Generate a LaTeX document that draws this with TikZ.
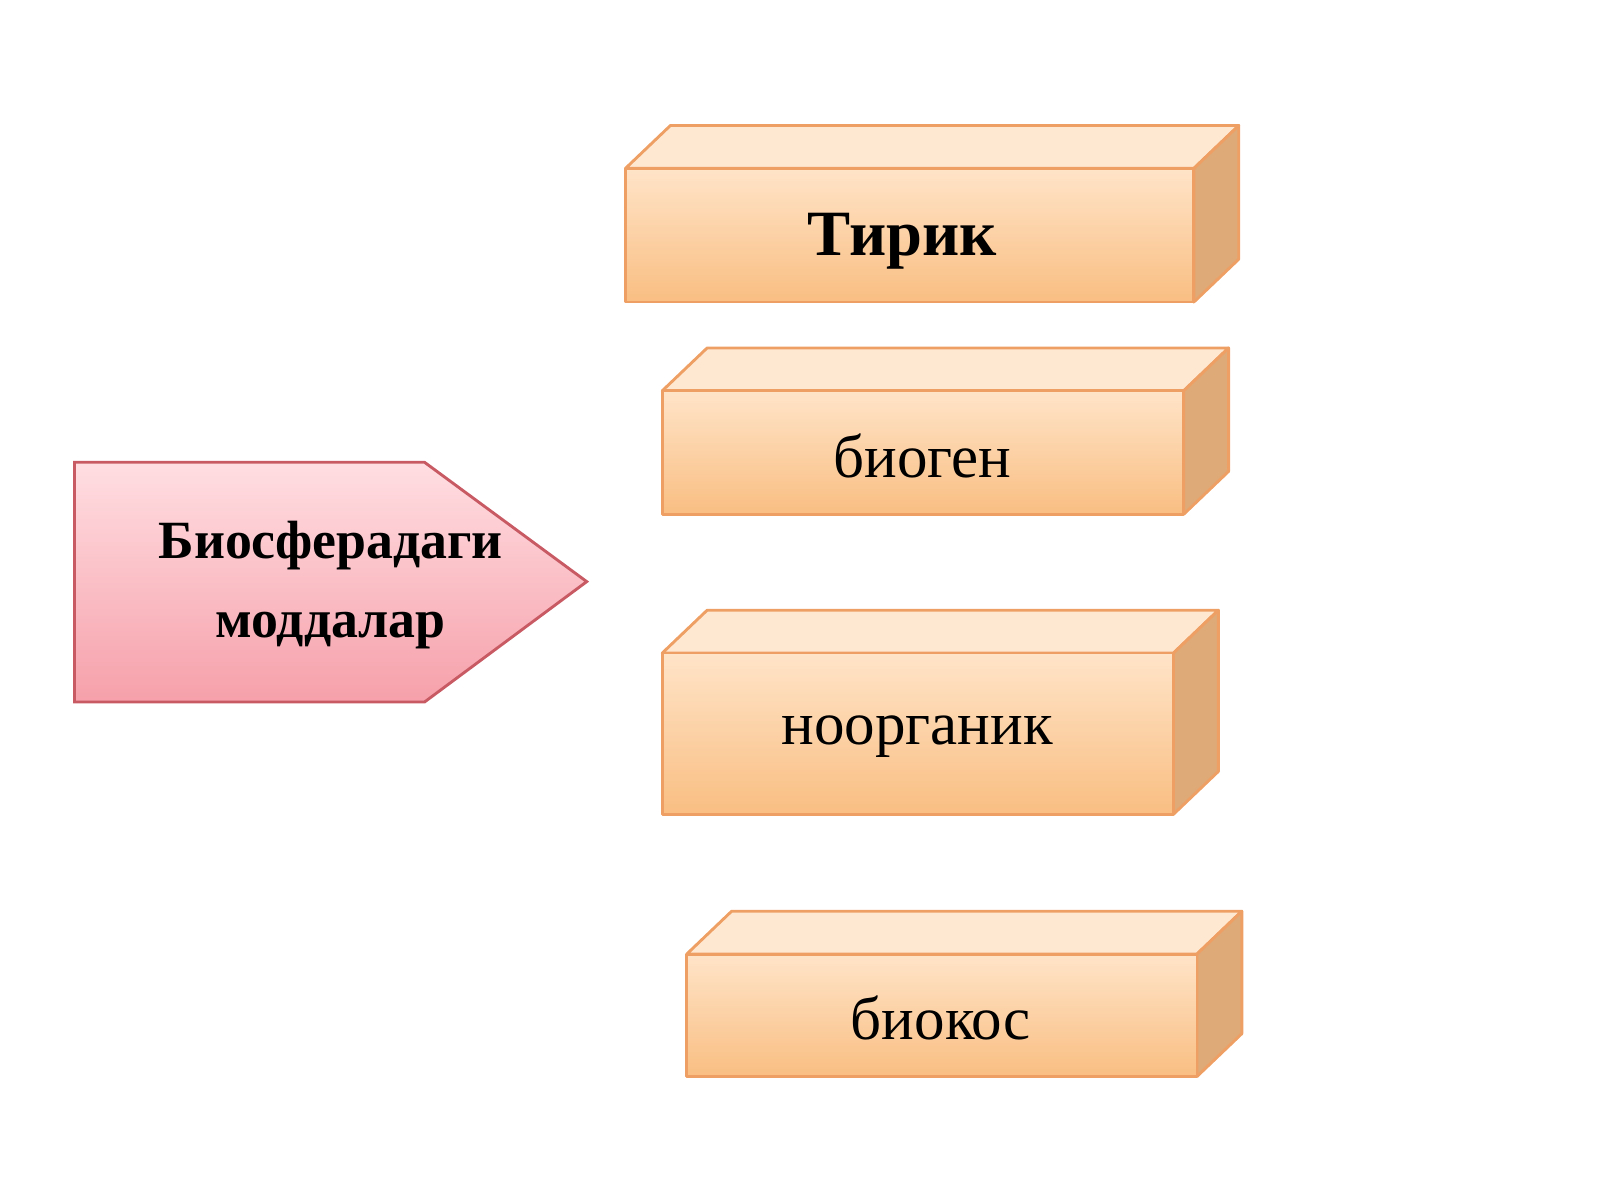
\documentclass[tikz,border=0pt]{standalone}
\usepackage{fontspec}
\setmainfont{Liberation Serif}
\usetikzlibrary{positioning}
\definecolor{fronttop}{RGB}{255,228,200}
\definecolor{frontbot}{RGB}{249,190,130}
\definecolor{topface}{RGB}{255,232,210}
\definecolor{sideface}{RGB}{222,170,120}
\definecolor{edge}{RGB}{238,160,100}
\definecolor{pinktop}{RGB}{255,222,226}
\definecolor{pinkbot}{RGB}{246,160,170}
\definecolor{pinkedge}{RGB}{200,90,100}
\tikzset{
  face/.style={draw=edge,line width=0.8pt,line join=round},
  label/.style={font=\fontsize{17}{20}\selectfont}
}
% #1,#2 left/right of front, #3,#4 top/bottom of front
\newcommand{\brick}[4]{
  \fill[face,fill=topface] (#1,#3) -- ++(44,-42) -- (#2+44,#3-42) -- (#2,#3) -- cycle;
  \fill[face,fill=sideface] (#2,#3) -- ++(44,-42) -- (#2+44,#4-42) -- (#2,#4) -- cycle;
  \shade[face,top color=fronttop,bottom color=frontbot] (#1,#3) rectangle (#2,#4);
}
\begin{document}
\begin{tikzpicture}[x=0.01cm,y=-0.01cm]
  \useasboundingbox (0,0) rectangle (1568,1176);
  % bricks
  \brick{613}{1170}{165}{296}
  \brick{649}{1160}{383}{504}
  \brick{649}{1150}{640}{798}
  \brick{673}{1173}{935}{1055}
  \node[label,font=\fontsize{18}{21}\selectfont\bfseries] (tirik) at (884,236) {Тирик};
  \node[label] (biogen) at (904,447) {биоген};
  \node[label] (noorganik) at (899,722) {ноорганик};
  \node[label] (biokos) at (922,998) {биокос};
  % arrow shape
  \shade[draw=pinkedge,line width=0.8pt,top color=pinktop,bottom color=pinkbot]
    (73,453) -- (416,453) -- (575,570) -- (416,688) -- (73,688) -- cycle;
  \node[align=center,font=\fontsize{15}{22}\selectfont\bfseries] (moddalar) at (324,573) {Биосферадаги\\моддалар};
\end{tikzpicture}
\end{document}
